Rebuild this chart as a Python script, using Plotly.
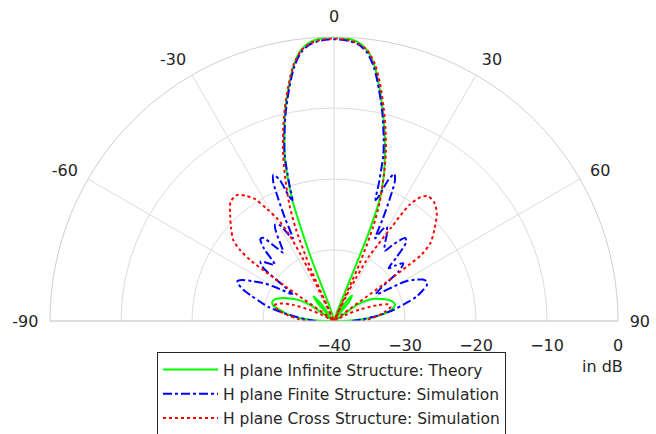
import plotly.graph_objects as go

# ---------------- data (angle in degrees, level in dB) ----------------
theory_theta = [-90, -88, -85, -82, -79, -76, -73, -70, -67, -63, -59, -56, -50,
                -43, -40, -37, -27, -20, -19, -18, -17, -15, -13, -11, -9, -7, -5, -3, 0,
                3, 5, 7, 9, 11, 13, 15, 17, 19, 20.5, 21.5, 26,
                32, 35, 38, 47, 55, 60, 67, 71, 75, 79, 83, 87, 90]
theory_db = [-40, -37.5, -35, -33.5, -32.5, -31.2, -30.9, -31.1, -31.8, -33, -34.3, -36, -40,
             -37, -35.5, -37, -40, -30, -22, -19, -16.5, -13, -9.5, -6.5, -3.6, -1.6, -0.6, -0.2, 0,
             -0.2, -0.6, -1.6, -3.6, -6.5, -9.5, -12.5, -15.5, -18.5, -21.5, -27, -40,
             -37, -35.6, -36.5, -40, -36, -33.8, -32.2, -31.4, -31.1, -31.8, -33.5, -36.5, -40]

finite_theta = [-90, -87, -84, -81, -78, -75.5, -73, -71, -69, -67.5, -66, -64, -62, -60, -57, -55,
                -53, -51, -48.5, -46.5, -44, -42, -40.5, -38.5, -36.5, -35, -33, -31.5, -29.5, -28,
                -26.5, -25.5, -24.5, -23.5, -22.5, -21, -20, -19, -18, -16.5, -15, -13, -11, -9,
                -7, -5, -3, 0,
                3, 5, 7, 9, 11, 13, 15, 16.5, 18, 19, 20, 21, 22.3, 23.5, 24.5, 25.5, 26.5, 27.8,
                29.2, 31, 33.5, 35.7, 38, 40.6, 42.5, 44.5, 46, 48, 50.2, 52.5, 55, 57.5, 59.7,
                61, 63, 65, 67, 69, 71, 73.6, 76, 79.5, 83, 86.5, 90]
finite_db = [-37.5, -36.3, -34.8, -32.8, -30.6, -29.3, -27.8, -26.5, -25.6, -25.3, -25.8, -27.2,
             -28.5, -30.5, -33, -31, -27.5, -26.7, -27.8, -28.5, -25.8, -24.5, -24.6, -26.5, -28,
             -27, -25, -24.1, -24.5, -26, -27, -24, -21, -18.5, -17.7, -18.8, -21, -22, -19.5,
             -15.5, -13, -9.8, -6.8, -3.9, -1.9, -0.9, -0.5, -0.3,
             -0.5, -0.9, -1.9, -3.9, -6.8, -9.8, -13, -15.5, -19.5, -22, -21, -18.8, -17.6,
             -18.5, -21, -24, -27, -25.5, -24.8, -25.5, -27, -27.8, -26.2, -24.6, -25, -27.5,
             -29.3, -28.3, -27.3, -28.5, -32, -33, -30.9, -28.5, -27.2, -26.2, -25.8, -26,
             -26.8, -27.9, -29.5, -31.5, -33.8, -36, -37.5]

cross_theta = [-90, -87, -83, -79, -75.5, -72, -68.5, -65.4, -63, -58, -54.5, -54.3, -54,
               -53, -51.2, -48, -44.9, -41, -37.7, -35, -33, -31, -29, -27.5, -26.6, -26, -25,
               -24, -22.5, -21, -19, -17, -15, -13, -11, -9, -7, -5, -3, 0,
               3, 5, 7, 9, 11, 13, 15, 17, 19, 21, 22.5, 24, 25, 26, 27, 28.5, 30, 31.5, 33,
               35, 37, 40, 43.6, 47.5, 51, 52.8, 53.2, 53.5, 58, 63, 66, 70, 73, 76, 80, 84,
               87, 90]
cross_db = [-36, -35, -33.5, -32, -31.3, -32, -33.8, -36.3, -38, -40, -32, -28, -25.5,
            -23.5, -21.8, -20.5, -19.3, -17.8, -17.6, -18.5, -19.5, -21.5, -23.5, -26, -30,
            -35, -40, -32, -26, -22.5, -19, -15.5, -12.3, -9.2, -6.3, -3.5, -1.7, -0.8, -0.4,
            -0.2,
            -0.4, -0.8, -1.6, -3.3, -6, -9, -12, -15, -18.5, -22, -25.5, -31, -40, -36, -33.5,
            -29.5, -27.5, -24.5, -20.5, -18.7, -18, -18.1, -19, -20.8, -22.5, -24.5, -27, -31,
            -40, -38, -36, -33.5, -32, -31.8, -32.8, -34, -35, -36]

series_names = ["H plane Infinite Structure: Theory",
                "H plane Finite Structure: Simulation",
                "H plane Cross Structure: Simulation"]

angle_ticks = [-90, -60, -30, 0, 30, 60, 90]
angle_labels = ["-90", "-60", "-30", "0", "30", "60", "90"]
radial_ticks = [-40, -30, -20, -10, 0]

# ---------------- figure ----------------
FONT = "DejaVu Sans, Liberation Sans, Arial, sans-serif"
TXT = "#262626"
GRID = "#dcdcdc"
fig = go.Figure()

fig.add_trace(go.Scatterpolar(
    r=theory_db, theta=theory_theta, mode="lines", name=series_names[0],
    line=dict(color="#00ff00", width=2, shape="spline", smoothing=0.8),
    legendgroup="a"))
fig.add_trace(go.Scatterpolar(
    r=finite_db, theta=finite_theta, mode="lines", name=series_names[1],
    line=dict(color="#0000ff", width=2, dash="dashdot", shape="spline", smoothing=0.8),
    legendgroup="b"))
fig.add_trace(go.Scatterpolar(
    r=cross_db, theta=cross_theta, mode="lines", name=series_names[2],
    line=dict(color="#ff0000", width=2, dash="dot", shape="spline", smoothing=0.8),
    legendgroup="c"))

W, H = 656, 434
fig.update_layout(
    width=W, height=H,
    margin=dict(l=0, r=0, t=0, b=0, autoexpand=False),
    paper_bgcolor="white",
    font=dict(family=FONT, size=15, color=TXT),
    showlegend=True,
    legend=dict(
        x=157 / W, y=1 - 352 / H, xanchor="left", yanchor="top",
        bgcolor="white", bordercolor=TXT, borderwidth=1,
        font=dict(family=FONT, size=15.5, color=TXT),
        itemwidth=55, tracegroupgap=1,
    ),
    polar=dict(
        domain=dict(x=[50 / W, 618 / W], y=[113 / H, 397 / H]),
        sector=[0, 180],
        bgcolor="white",
        angularaxis=dict(
            rotation=90, direction="clockwise",
            tickmode="array", tickvals=angle_ticks, ticktext=angle_labels,
            showgrid=True, gridcolor=GRID, gridwidth=1,
            showline=True, linecolor="#cfcfcf", linewidth=1,
            ticks="outside", ticklen=8, tickcolor="rgba(0,0,0,0)",
            tickfont=dict(family=FONT, size=16, color=TXT),
        ),
        radialaxis=dict(
            range=[-40, 0], tickmode="array", tickvals=radial_ticks,
            angle=0, side="clockwise", showline=False,
            showgrid=True, gridcolor=GRID, gridwidth=1,
            ticks="outside", ticklen=10, tickcolor="rgba(0,0,0,0)",
            tickangle=0, tickfont=dict(family=FONT, size=16, color=TXT),
        ),
    ),
    annotations=[dict(text="in dB", x=602 / W, y=1 - 366 / H, xref="paper", yref="paper",
                      xanchor="center", yanchor="middle", showarrow=False,
                      font=dict(family=FONT, size=16, color=TXT))],
)

fig.write_html("out.html", config={"displayModeBar": False},
               post_script="document.body.style.margin='0px';")
